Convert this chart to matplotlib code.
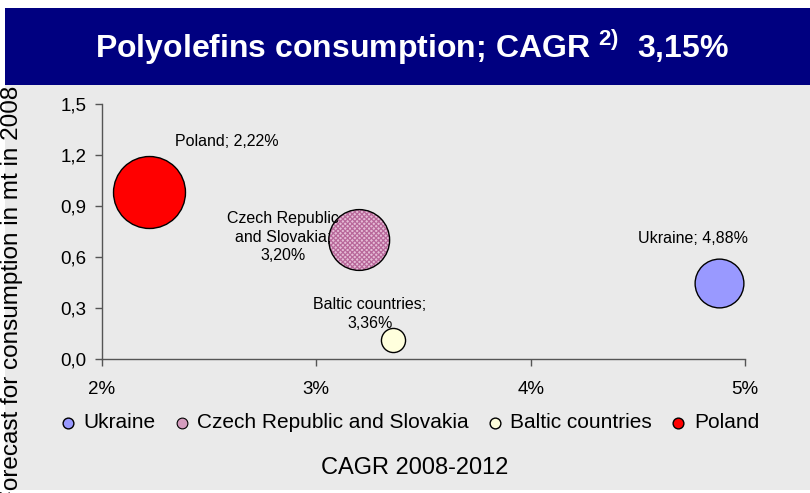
import matplotlib.pyplot as plt
from matplotlib.patches import Rectangle
from matplotlib.ticker import FuncFormatter, MultipleLocator

plt.rcParams['font.family'] = ['Liberation Sans', 'DejaVu Sans']
plt.rcParams['mathtext.fontset'] = 'custom'
plt.rcParams['mathtext.rm'] = 'Liberation Sans'
plt.rcParams['mathtext.bf'] = 'Liberation Sans:bold'
plt.rcParams['hatch.linewidth'] = 0.9

# data
countries = ["Ukraine", "Czech Republic and Slovakia", "Baltic countries", "Poland"]
cagr = [4.88, 3.20, 3.36, 2.22]            # x, percent
consumption = [0.45, 0.70, 0.11, 0.98]     # y, mt in 2008 (also bubble size)
labels = ["Ukraine; 4,88%", "Czech Republic\nand Slovakia;\n3,20%",
          "Baltic countries;\n3,36%", "Poland; 2,22%"]
colors = ["#9999FF", "#E6BCD6", "#FFFFDD", "#FF0000"]
hatches = [None, "xxxxxxx", None, None]
label_offsets = [(-19, 32), (-55, 2), (-17, 19), (56, 37)]

bg = "#EAEAEA"
fig = plt.figure(figsize=(8.1, 4.93), dpi=100)
fig.patch.set_facecolor("white")

# gray panel and title banner
fig.patches.append(Rectangle((5 / 810, 3 / 493), 805 / 810, 405 / 493,
                             transform=fig.transFigure, facecolor=bg,
                             edgecolor="none", zorder=-1))
fig.patches.append(Rectangle((5 / 810, 408 / 493), 805 / 810, 77 / 493,
                             transform=fig.transFigure, facecolor="#000080",
                             edgecolor="none", zorder=5))
fig.text(0.508, 0.905, r"Polyolefins consumption; CAGR $^{\mathbf{2)}}$  3,15%",
         color="white", fontsize=23, fontweight="bold",
         ha="center", va="center", zorder=6)

fig.text(12 / 810, 1 - 86 / 493, "Forecast for consumption in mt in 2008",
         rotation=90, fontsize=17.5, ha="center", va="top", zorder=1)

ax = fig.add_axes([102 / 810, 1 - 359 / 493, 643 / 810, 255 / 493])
ax.set_zorder(2)
ax.set_facecolor(bg)

k = 2740
for c, x, y, col, h, lab, off in zip(countries, cagr, consumption, colors,
                                     hatches, labels, label_offsets):
    if h:
        ax.scatter(x, y, s=y * k, facecolor=col, edgecolor="#B8689A",
                   hatch=h, linewidth=0, zorder=3, clip_on=False)
        ax.scatter(x, y, s=y * k, facecolor="none", edgecolor="black",
                   linewidth=1, zorder=4, clip_on=False)
        ax.scatter([], [], s=60, facecolor="#D49CBE", edgecolor="black",
                   linewidth=0.8, label=c)
    else:
        ax.scatter(x, y, s=y * k, facecolor=col, edgecolor="black",
                   linewidth=1, zorder=3, clip_on=False, label=c)
    ax.annotate(lab, (x, y), xytext=off, textcoords="offset points",
                ha="center", va="center", fontsize=11.5, linespacing=1.3,
                zorder=5)

ax.set_xlim(2, 5)
ax.set_ylim(0, 1.5)
ax.xaxis.set_major_locator(MultipleLocator(1))
ax.yaxis.set_major_locator(MultipleLocator(0.3))
ax.xaxis.set_major_formatter(FuncFormatter(lambda v, p: "%d%%" % round(v)))
ax.yaxis.set_major_formatter(FuncFormatter(lambda v, p: ("%.1f" % v).replace(".", ",")))
ax.tick_params(labelsize=13.5, length=5, color="#555555", width=1)
ax.tick_params(axis="x", pad=11)
ax.tick_params(axis="y", pad=6)
for s in ["top", "right"]:
    ax.spines[s].set_visible(False)
for s in ["left", "bottom"]:
    ax.spines[s].set_color("#555555")
    ax.spines[s].set_linewidth(1)

ax.set_xlabel("CAGR 2008-2012", fontsize=17)
ax.xaxis.set_label_coords(0.487, -0.385)
leg = ax.legend(loc="upper center", bbox_to_anchor=(0.477, -0.14), ncol=4,
                frameon=False, fontsize=15, handletextpad=0.3,
                handlelength=0.9, columnspacing=0.8, markerscale=1)
for hnd in leg.legend_handles:
    hnd.set_sizes([60])

fig.savefig("out.png", dpi=100, facecolor=fig.get_facecolor())
